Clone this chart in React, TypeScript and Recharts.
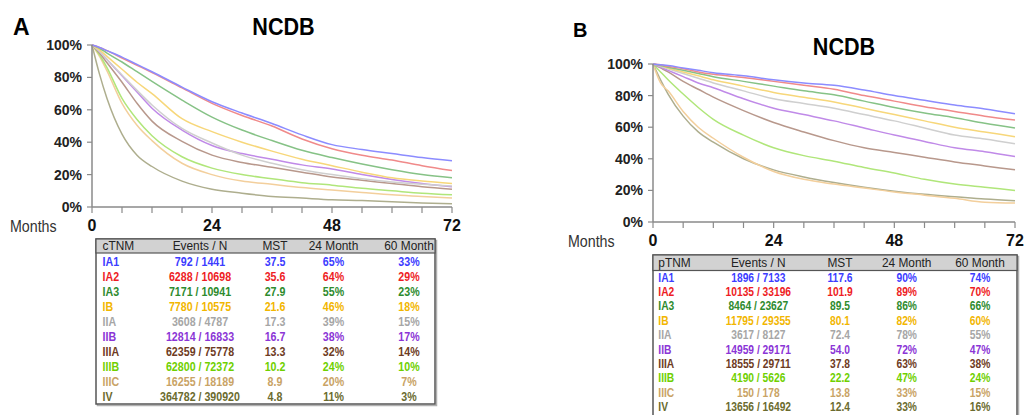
import { Line, LineChart, XAxis, YAxis } from "recharts";

// stage groups, shared by both panels
const stages = ["IA1", "IA2", "IA3", "IB", "IIA", "IIB", "IIIA", "IIIB", "IIIC", "IV"];
const lineColors = ["#8c8cff", "#f08a8a", "#86c286", "#f7d77a", "#cfcfcf", "#c08ae8", "#b8988c", "#b0e67a", "#f3cf9c", "#aeae8e"];
const textColors = ["#3c3cff", "#ee1c24", "#2e8b2e", "#f2b600", "#a6a6a6", "#8b35d6", "#6e3b23", "#6fd000", "#c9a365", "#6b6b2e"];

const months = [0, 1.5, 3, 6, 9, 12, 18, 24, 30, 36, 42, 48, 54, 60, 66, 72];
const monthTicks = [0, 6, 12, 18, 24, 30, 36, 42, 48, 54, 60, 66, 72];
const pctTicks = [0, 20, 40, 60, 80, 100];

// panel A (clinical stage), survival % at each month
const cIA1 = [100, 98.5, 96.5, 92.5, 88, 83.5, 74, 65, 58, 51.5, 44.5, 38.5, 35.5, 33, 30.5, 28.5];
const cIA2 = [100, 98.5, 96.5, 92, 87.5, 83, 73.5, 64, 56.5, 50, 42, 36, 32, 29, 25.5, 22.5];
const cIA3 = [100, 98, 95, 89.5, 83.5, 77.5, 66, 55.5, 47.5, 41, 35, 30.5, 26.5, 23, 20, 18];
const cIB = [100, 97, 93, 85, 77, 70, 54.5, 46.5, 40, 34.5, 29.5, 25.5, 21.5, 18, 16, 14.5];
const cIIA = [100, 96, 91, 81.5, 72, 63, 48.5, 39.5, 32, 27, 23, 20, 17.5, 15.5, 14, 13];
const cIIB = [100, 96, 91, 81, 71, 61, 47.5, 38, 33, 29.5, 26, 23.5, 20, 17, 14.5, 12.5];
const cIIIA = [100, 95, 89, 77, 64, 53, 40.5, 32, 27.5, 24.5, 21.5, 18.5, 16.5, 14.5, 12.5, 11];
const cIIIB = [100, 94, 86, 67, 54, 44, 31, 24, 20, 17.5, 15, 13.5, 11.5, 10, 8.5, 7.5];
const cIIIC = [100, 93, 84, 64, 50.5, 41, 27, 20, 16, 14, 12, 10.5, 9, 7.5, 6.5, 5.5];
const cIV = [100, 82, 67, 45, 32, 25, 16, 11, 8.5, 6.5, 5.5, 4.5, 4, 3.2, 2.5, 2];

// panel B (pathological stage)
const pIA1 = [100, 99.5, 99, 97.5, 96, 94.5, 92.5, 90, 88, 86.5, 83.5, 80, 77, 74, 71.5, 68.5];
const pIA2 = [100, 99.5, 98.5, 97, 95, 93.5, 91.5, 89, 86.5, 84, 80, 76.5, 73, 70, 67, 64.5];
const pIA3 = [100, 99, 98, 96, 94, 92, 89, 86, 83, 80.5, 76.5, 72.5, 69, 66, 62.5, 59.5];
const pIB = [100, 99, 97.5, 95, 92.5, 90, 86, 82, 79, 76, 72, 68, 64, 60, 57, 54];
const pIIA = [100, 98.5, 97, 94, 91, 88, 83, 78, 75, 72, 68, 64, 59.5, 55, 52.5, 49.5];
const pIIB = [100, 98, 96, 92, 88, 85, 78, 72, 68, 64, 59.5, 55, 51, 47, 44.5, 41.5];
const pIIIA = [100, 97.5, 95, 89, 84, 79, 70.5, 63, 57, 51.5, 47, 44, 41, 38, 35.5, 33];
const pIIIB = [100, 95, 90, 81, 72.5, 65, 55, 47, 42, 38.5, 34.5, 31, 27, 24, 22, 20];
const pIIIC = [100, 88, 83, 70, 60, 53, 41, 32, 27, 24, 21.5, 19, 17, 15, 12.5, 12];
const pIV = [100, 90, 81, 67, 57, 50.5, 40, 33, 28.5, 25, 22, 19.5, 17.5, 16, 14.5, 13.5];

// table columns
const cEvents = ["792 / 1441", "6288 / 10698", "7171 / 10941", "7780 / 10575", "3608 / 4787", "12814 / 16833", "62359 / 75778", "62800 / 72372", "16255 / 18189", "364782 / 390920"];
const cMst = ["37.5", "35.6", "27.9", "21.6", "17.3", "16.7", "13.3", "10.2", "8.9", "4.8"];
const c24 = ["65%", "64%", "55%", "46%", "39%", "38%", "32%", "24%", "20%", "11%"];
const c60 = ["33%", "29%", "23%", "18%", "15%", "17%", "14%", "10%", "7%", "3%"];

const pEvents = ["1896 / 7133", "10135 / 33196", "8464 / 23627", "11795 / 29355", "3617 / 8127", "14959 / 29171", "18555 / 29711", "4190 / 5626", "150 / 178", "13656 / 16492"];
const pMst = ["117.6", "101.9", "89.5", "80.1", "72.4", "54.0", "37.8", "22.2", "13.8", "12.4"];
const p24 = ["90%", "89%", "86%", "82%", "78%", "72%", "63%", "47%", "33%", "33%"];
const p60 = ["74%", "70%", "66%", "60%", "55%", "47%", "38%", "24%", "15%", "16%"];

const font = "'Liberation Sans', Arial, sans-serif";

function buildRows(curves: number[][]) {
  return months.map((m, i) => {
    const row: Record<string, number> = { m };
    stages.forEach((s, k) => {
      row[s] = curves[k][i];
    });
    return row;
  });
}

const clinicalRows = buildRows([cIA1, cIA2, cIA3, cIB, cIIA, cIIB, cIIIA, cIIIB, cIIIC, cIV]);
const pathRows = buildRows([pIA1, pIA2, pIA3, pIB, pIIA, pIIB, pIIIA, pIIIB, pIIIC, pIV]);

interface SurvivalChartProps {
  data: Record<string, number>[];
  left: number;
  width: number;
  height: number;
  top: number;
  right: number;
  axisWidth: number;
}

function SurvivalChart({ data, left, width, height, top, right, axisWidth }: SurvivalChartProps) {
  const order = [...stages].reverse();
  return (
    <div style={{ position: "absolute", left, top: 0 }}>
      <LineChart width={width} height={height} data={data} margin={{ top, right, left: 0, bottom: 0 }}>
        <XAxis
          dataKey="m"
          type="number"
          domain={[0, 72]}
          ticks={monthTicks}
          interval={0}
          tickFormatter={(v: number) => (v % 24 === 0 ? String(v) : "")}
          axisLine={{ stroke: "#8a8a8a", strokeWidth: 1.5 }}
          tickLine={{ stroke: "#8a8a8a", strokeWidth: 1.2 }}
          tickSize={6}
          tickMargin={7}
          height={30}
          tick={{ fontSize: 16, fontWeight: 700, fill: "#111", fontFamily: font }}
        />
        <YAxis
          type="number"
          domain={[0, 100]}
          ticks={pctTicks}
          interval={0}
          tickFormatter={(v: number) => `${v}%`}
          axisLine={{ stroke: "#8a8a8a", strokeWidth: 1.5 }}
          tickLine={{ stroke: "#8a8a8a", strokeWidth: 1.2 }}
          tickSize={5}
          tickMargin={5}
          width={axisWidth}
          tick={{ fontSize: 14, fontWeight: 700, fill: "#222", fontFamily: font }}
        />
        {order.map((s) => (
          <Line
            key={s}
            dataKey={s}
            type="monotone"
            stroke={lineColors[stages.indexOf(s)]}
            strokeWidth={1.5}
            dot={false}
            isAnimationActive={false}
          />
        ))}
      </LineChart>
    </div>
  );
}

interface StageTableProps {
  x: number;
  y: number;
  width: number;
  height: number;
  headHeight: number;
  headMid: number;
  rowStart: number;
  rowStep: number;
  fontSize: number;
  cols: number[];
  title: string;
  events: string[];
  mst: string[];
  m24: string[];
  m60: string[];
}

function StageTable(p: StageTableProps) {
  const heads = ["Events / N", "MST", "24 Month", "60 Month"];
  const narrow = (tx: number, ty: number, sx = 0.82) => `translate(${tx},${ty}) scale(${sx},1)`;
  const headBase = p.headMid + 13.5 * 0.36;
  return (
    <g fontFamily={font}>
      <rect x={p.x + 1.5} y={p.y + 1.5} width={p.width} height={p.height} fill="none" stroke="#b0b0b0" strokeWidth={1.5} />
      <rect x={p.x} y={p.y} width={p.width} height={p.height} fill="#fff" stroke="#555" strokeWidth={1.5} />
      <rect x={p.x} y={p.y} width={p.width} height={p.headHeight} fill="#d2d2d2" stroke="#555" strokeWidth={1.2} />
      <text transform={narrow(p.x + p.cols[0], headBase, 0.88)} fontSize={13.5} fill="#222">
        {p.title}
      </text>
      {heads.map((h, i) => (
        <text key={h} transform={narrow(p.x + p.cols[i + 1], headBase, 0.88)} fontSize={13.5} fill="#222" textAnchor="middle">
          {h}
        </text>
      ))}
      {stages.map((s, r) => {
        const base = p.rowStart + r * p.rowStep + p.fontSize * 0.36;
        const vals = [p.events[r], p.mst[r], p.m24[r], p.m60[r]];
        return (
          <g key={s} fill={textColors[r]} fontWeight={700} fontSize={p.fontSize}>
            <text transform={narrow(p.x + p.cols[0], base)}>{s}</text>
            {vals.map((v, i) => (
              <text key={i} transform={narrow(p.x + p.cols[i + 1], base)} textAnchor="middle">
                {v}
              </text>
            ))}
          </g>
        );
      })}
    </g>
  );
}

export default function App() {
  return (
    <div style={{ position: "absolute", left: 0, top: 0, width: 1024, height: 415, background: "#fff", overflow: "hidden", fontFamily: font }}>
      <SurvivalChart data={clinicalRows} left={0} width={470} height={237} top={45} right={18} axisWidth={92} />
      <SurvivalChart data={pathRows} left={560} width={464} height={252} top={64} right={9} axisWidth={93} />
      <svg width={1024} height={415} style={{ position: "absolute", left: 0, top: 0 }}>
        <text x={13} y={35} fontSize={23} fontWeight={700} fontFamily={font} fill="#000">A</text>
        <text transform="translate(283.5,35) scale(0.9,1)" fontSize={24} fontWeight={700} fontFamily={font} fill="#000" textAnchor="middle">NCDB</text>
        <text x={573} y={37} fontSize={20} fontWeight={700} fontFamily={font} fill="#000">B</text>
        <text transform="translate(844,55) scale(0.9,1)" fontSize={24} fontWeight={700} fontFamily={font} fill="#000" textAnchor="middle">NCDB</text>
        <text transform="translate(10,232) scale(0.89,1)" fontSize={16} fontFamily={font} fill="#333">Months</text>
        <text transform="translate(568,247) scale(0.89,1)" fontSize={16} fontFamily={font} fill="#333">Months</text>
        <StageTable
          x={96}
          y={239}
          width={339}
          height={165}
          headHeight={14}
          headMid={245.5}
          rowStart={261}
          rowStep={15}
          fontSize={13}
          cols={[6.5, 104, 179, 237.5, 313]}
          title="cTNM"
          events={cEvents}
          mst={cMst}
          m24={c24}
          m60={c60}
        />
        <StageTable
          x={653}
          y={255}
          width={364}
          height={162}
          headHeight={15.5}
          headMid={262}
          rowStart={277}
          rowStep={14.4}
          fontSize={12.5}
          cols={[5.3, 105.3, 187, 253.7, 327]}
          title="pTNM"
          events={pEvents}
          mst={pMst}
          m24={p24}
          m60={p60}
        />
      </svg>
    </div>
  );
}
